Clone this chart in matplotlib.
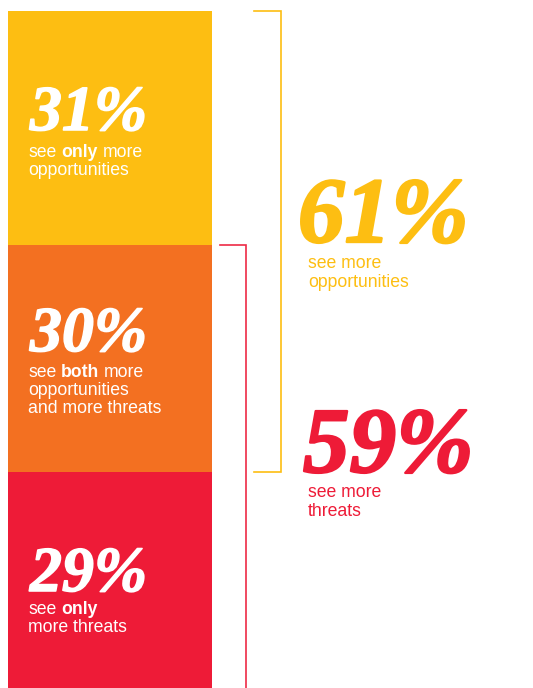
import matplotlib
matplotlib.use("Agg")
import matplotlib.pyplot as plt
import matplotlib.patheffects as pe

# survey shares (percent) for the stacked column, top to bottom
segments = ["only opportunities", "both", "only threats"]
shares = [31, 30, 29]
seg_colors = ["#FDBE12", "#F37021", "#EE1B37"]

# bracket totals
opp_total = shares[0] + shares[1]      # 61
threat_total = shares[1] + shares[2]   # 59

seg_labels = [
    [[("see ", "normal"), ("only", "bold"), (" more", "normal")],
     [("opportunities", "normal")]],
    [[("see ", "normal"), ("both", "bold"), (" more", "normal")],
     [("opportunities", "normal")],
     [("and more threats", "normal")]],
    [[("see ", "normal"), ("only", "bold")],
     [("more threats", "normal")]],
]

W, H = 533, 688
PX_PER_PCT = 7.55
TOP_PAD = 11

fig = plt.figure(figsize=(W / 100, H / 100), dpi=100)
ax = fig.add_axes([0, 0, 1, 1])
ymax = sum(shares) + TOP_PAD / PX_PER_PCT
ax.set_xlim(0, W)
ax.set_ylim(ymax - H / PX_PER_PCT, ymax)
ax.axis("off")

# stacked column, first segment on top
bottom = sum(shares)
for val, col in zip(shares, seg_colors):
    bottom -= val
    ax.bar(110, val, width=204, bottom=bottom, color=col, linewidth=0)

# brackets on the right
top = sum(shares)
ax.plot([254, 281, 281, 254], [top, top, top - opp_total, top - opp_total],
        color=seg_colors[0], lw=1.2, solid_joinstyle="miter")
ax.plot([220, 246, 246], [threat_total, threat_total, -5],
        color="#EE2A45", lw=1.2, solid_joinstyle="miter")

renderer = fig.canvas.get_renderer()
SANS = "Liberation Sans"
SERIF = "Liberation Serif"


def fxy(x, y):
    return x / W, 1 - y / H


def space_width(size, weight):
    a = fig.text(0, 0, "x x", fontsize=size, family=SANS, weight=weight)
    b = fig.text(0, 0, "xx", fontsize=size, family=SANS, weight=weight)
    w = a.get_window_extent(renderer).width - b.get_window_extent(renderer).width
    a.remove()
    b.remove()
    return w


def draw_line(x, y, runs, color, size=12.7):
    # one line of mixed regular/bold runs, placed left to right
    for txt, weight in runs:
        lead = len(txt) - len(txt.lstrip(" "))
        x += lead * space_width(size, weight)
        body = txt.strip(" ")
        t = fig.text(*fxy(x, y), body, fontsize=size, family=SANS,
                     weight=weight, color=color, ha="left", va="baseline")
        x += t.get_window_extent(renderer).width
        x += (len(txt) - len(txt.rstrip(" "))) * space_width(size, weight)


def big(x, y, value, color, size):
    fig.text(*fxy(x, y), f"{value}%", fontsize=size, family=SERIF,
             weight="bold", style="italic", color=color,
             ha="left", va="baseline",
             path_effects=[pe.withStroke(linewidth=size / 40, foreground=color)])


# labels inside the column
big_y = [130, 351, 591]
line_y = [[157, 175], [377, 395, 413], [614, 632]]
for val, by, lys, lines in zip(shares, big_y, line_y, seg_labels):
    big(30, by, val, "white", 46)
    for ly, runs in zip(lys, lines):
        draw_line(28, ly, runs, "white")

# totals beside the brackets
big(298, 242, opp_total, seg_colors[0], 67)
draw_line(308, 268, [("see more", "normal")], seg_colors[0])
draw_line(308, 287, [("opportunities", "normal")], seg_colors[0])

big(303, 472, threat_total, seg_colors[2], 67)
draw_line(308, 497, [("see more", "normal")], seg_colors[2])
draw_line(308, 516, [("threats", "normal")], seg_colors[2])

fig.savefig("out.png", dpi=100, facecolor="white")
